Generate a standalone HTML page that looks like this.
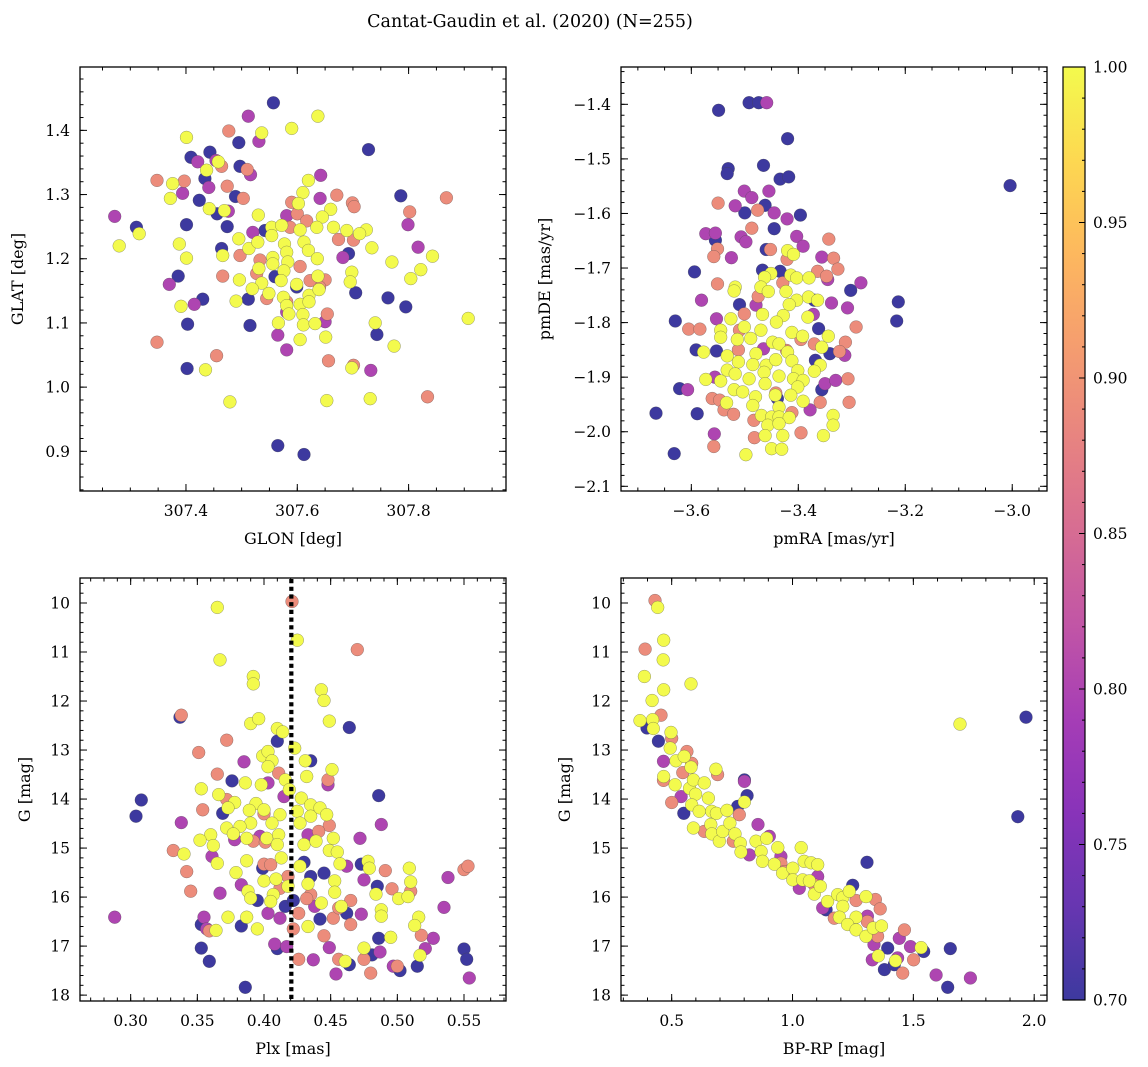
<!DOCTYPE html>
<html><head><meta charset="utf-8"><style>
html,body{margin:0;padding:0;background:#fff;}
svg{display:block;font-family:"DejaVu Serif","Liberation Serif",serif;}
</style></head><body>
<svg id="fig" width="1148" height="1067" viewBox="0 0 1148 1067" xmlns="http://www.w3.org/2000/svg">
<text x="530" y="27" text-anchor="middle" font-size="17.5">Cantat-Gaudin et al. (2020) (N=255)</text>
<defs><linearGradient id="cbgrad" x1="0" y1="1" x2="0" y2="0"></linearGradient></defs>
</svg>
<script>
// ---------- DATA ----------
// top-left: [GLON, GLAT, prob]
const tlPoints = [
[307.557,1.443,0.70],[307.495,1.381,0.70],[307.443,1.366,0.70],[307.409,1.358,0.70],[307.728,1.370,0.70],[307.497,1.344,0.70],[307.434,1.325,0.70],[307.424,1.291,0.70],[307.489,1.297,0.70],[307.786,1.298,0.70],[307.456,1.270,0.70],[307.311,1.249,0.70],[307.401,1.253,0.70],[307.474,1.250,0.70],[307.464,1.216,0.70],[307.692,1.208,0.70],[307.386,1.173,0.70],[307.430,1.137,0.70],[307.512,1.137,0.70],[307.705,1.147,0.70],[307.763,1.139,0.70],[307.795,1.125,0.70],[307.403,1.098,0.70],[307.515,1.096,0.70],[307.743,1.082,0.70],[307.402,1.029,0.70],[307.565,0.909,0.70],[307.612,0.895,0.70],[307.542,1.244,0.70],[307.560,1.172,0.70],[307.599,1.156,0.70],
[307.272,1.266,0.80],[307.512,1.422,0.80],[307.531,1.383,0.80],[307.421,1.351,0.80],[307.454,1.353,0.80],[307.516,1.331,0.80],[307.441,1.311,0.80],[307.394,1.302,0.80],[307.641,1.294,0.80],[307.642,1.330,0.80],[307.476,1.274,0.80],[307.581,1.267,0.80],[307.520,1.241,0.80],[307.799,1.253,0.80],[307.817,1.218,0.80],[307.682,1.202,0.80],[307.370,1.160,0.80],[307.415,1.129,0.80],[307.565,1.081,0.80],[307.581,1.058,0.80],[307.650,1.102,0.80],[307.732,1.026,0.80],[307.581,1.117,0.80],
[307.348,1.322,0.89],[307.397,1.321,0.89],[307.477,1.399,0.89],[307.510,1.339,0.89],[307.464,1.344,0.89],[307.474,1.313,0.89],[307.503,1.294,0.89],[307.590,1.288,0.89],[307.600,1.270,0.89],[307.671,1.299,0.89],[307.699,1.287,0.89],[307.702,1.281,0.89],[307.802,1.273,0.89],[307.868,1.295,0.89],[307.674,1.230,0.89],[307.701,1.229,0.89],[307.497,1.205,0.89],[307.533,1.198,0.89],[307.587,1.249,0.89],[307.617,1.259,0.89],[307.466,1.173,0.89],[307.650,1.167,0.89],[307.640,1.156,0.89],[307.545,1.138,0.89],[307.581,1.133,0.89],[307.654,1.114,0.89],[307.348,1.070,0.89],[307.455,1.049,0.89],[307.656,1.041,0.89],[307.701,1.034,0.89],[307.834,0.985,0.89],[307.605,1.188,0.89],[307.623,1.166,0.89],[307.527,1.177,0.89],
[307.637,1.422,1.0],[307.590,1.403,1.0],[307.536,1.396,1.0],[307.401,1.389,1.0],[307.458,1.351,1.0],[307.437,1.338,1.0],[307.376,1.317,1.0],[307.372,1.294,1.0],[307.442,1.278,1.0],[307.469,1.275,1.0],[307.620,1.322,1.0],[307.610,1.303,1.0],[307.602,1.286,1.0],[307.660,1.277,1.0],[307.645,1.265,1.0],[307.530,1.268,1.0],[307.316,1.239,1.0],[307.280,1.220,1.0],[307.388,1.223,1.0],[307.401,1.201,1.0],[307.554,1.249,1.0],[307.572,1.252,1.0],[307.605,1.245,1.0],[307.635,1.249,1.0],[307.665,1.249,1.0],[307.689,1.244,1.0],[307.724,1.245,1.0],[307.712,1.239,1.0],[307.495,1.231,1.0],[307.513,1.216,1.0],[307.529,1.226,1.0],[307.554,1.236,1.0],[307.577,1.223,1.0],[307.612,1.226,1.0],[307.620,1.213,1.0],[307.581,1.210,1.0],[307.466,1.205,1.0],[307.556,1.202,1.0],[307.583,1.195,1.0],[307.636,1.200,1.0],[307.734,1.217,1.0],[307.770,1.195,1.0],[307.843,1.204,1.0],[307.822,1.183,1.0],[307.804,1.169,1.0],[307.531,1.185,1.0],[307.556,1.192,1.0],[307.576,1.181,1.0],[307.637,1.173,1.0],[307.698,1.179,1.0],[307.695,1.164,1.0],[307.496,1.167,1.0],[307.536,1.162,1.0],[307.571,1.166,1.0],[307.599,1.160,1.0],[307.519,1.153,1.0],[307.549,1.146,1.0],[307.575,1.140,1.0],[307.621,1.143,1.0],[307.639,1.152,1.0],[307.490,1.134,1.0],[307.581,1.127,1.0],[307.605,1.129,1.0],[307.391,1.126,1.0],[307.621,1.133,1.0],[307.585,1.114,1.0],[307.610,1.113,1.0],[307.566,1.100,1.0],[307.611,1.097,1.0],[307.632,1.099,1.0],[307.740,1.100,1.0],[307.907,1.107,1.0],[307.651,1.078,1.0],[307.605,1.074,1.0],[307.774,1.064,1.0],[307.435,1.027,1.0],[307.698,1.030,1.0],[307.479,0.977,1.0],[307.653,0.979,1.0],[307.731,0.982,1.0]
];
// top-right: [pmRA, pmDE, prob]
const trPoints = [
[-3.549,-1.411,0.70],[-3.492,-1.397,0.70],[-3.474,-1.397,0.70],[-3.420,-1.463,0.70],[-3.531,-1.518,0.70],[-3.533,-1.527,0.70],[-3.465,-1.512,0.70],[-3.434,-1.537,0.70],[-3.418,-1.533,0.70],[-3.004,-1.549,0.70],[-3.462,-1.585,0.70],[-3.500,-1.599,0.70],[-3.396,-1.603,0.70],[-3.445,-1.628,0.70],[-3.555,-1.649,0.70],[-3.460,-1.666,0.70],[-3.594,-1.707,0.70],[-3.467,-1.704,0.70],[-3.434,-1.706,0.70],[-3.302,-1.741,0.70],[-3.510,-1.767,0.70],[-3.213,-1.762,0.70],[-3.216,-1.797,0.70],[-3.630,-1.797,0.70],[-3.591,-1.850,0.70],[-3.553,-1.852,0.70],[-3.362,-1.811,0.70],[-3.341,-1.857,0.70],[-3.368,-1.869,0.70],[-3.622,-1.921,0.70],[-3.589,-1.967,0.70],[-3.666,-1.966,0.70],[-3.356,-1.923,0.70],[-3.632,-2.040,0.70],[-3.439,-1.939,0.70],[-3.370,-1.759,0.70],
[-3.459,-1.397,0.80],[-3.501,-1.559,0.80],[-3.487,-1.571,0.80],[-3.455,-1.559,0.80],[-3.518,-1.586,0.80],[-3.445,-1.599,0.80],[-3.421,-1.610,0.80],[-3.573,-1.637,0.80],[-3.555,-1.636,0.80],[-3.507,-1.643,0.80],[-3.498,-1.652,0.80],[-3.403,-1.642,0.80],[-3.391,-1.660,0.80],[-3.525,-1.681,0.80],[-3.356,-1.680,0.80],[-3.345,-1.721,0.80],[-3.283,-1.727,0.80],[-3.581,-1.759,0.80],[-3.338,-1.764,0.80],[-3.308,-1.773,0.80],[-3.553,-1.793,0.80],[-3.479,-1.768,0.80],[-3.372,-1.785,0.80],[-3.465,-1.848,0.80],[-3.313,-1.860,0.80],[-3.607,-1.923,0.80],[-3.350,-1.912,0.80],[-3.330,-1.906,0.80],[-3.557,-2.004,0.80],[-3.378,-1.960,0.80],[-3.556,-1.900,0.80],
[-3.550,-1.581,0.89],[-3.476,-1.594,0.89],[-3.487,-1.627,0.89],[-3.551,-1.665,0.89],[-3.558,-1.679,0.89],[-3.452,-1.666,0.89],[-3.421,-1.684,0.89],[-3.343,-1.647,0.89],[-3.334,-1.682,0.89],[-3.326,-1.702,0.89],[-3.364,-1.706,0.89],[-3.347,-1.715,0.89],[-3.551,-1.729,0.89],[-3.429,-1.727,0.89],[-3.475,-1.752,0.89],[-3.605,-1.812,0.89],[-3.584,-1.812,0.89],[-3.292,-1.808,0.89],[-3.501,-1.784,0.89],[-3.512,-1.850,0.89],[-3.395,-1.831,0.89],[-3.370,-1.839,0.89],[-3.312,-1.836,0.89],[-3.323,-1.853,0.89],[-3.422,-1.851,0.89],[-3.307,-1.903,0.89],[-3.305,-1.946,0.89],[-3.359,-1.946,0.89],[-3.561,-1.939,0.89],[-3.547,-1.942,0.89],[-3.539,-1.960,0.89],[-3.521,-1.968,0.89],[-3.483,-1.979,0.89],[-3.412,-1.965,0.89],[-3.395,-2.002,0.89],[-3.482,-2.011,0.89],[-3.558,-2.027,0.89],[-3.442,-1.929,0.89],[-3.510,-1.814,0.89],
[-3.420,-1.668,1.0],[-3.409,-1.675,1.0],[-3.451,-1.710,1.0],[-3.463,-1.717,1.0],[-3.414,-1.713,1.0],[-3.403,-1.718,1.0],[-3.380,-1.718,1.0],[-3.518,-1.735,1.0],[-3.520,-1.742,1.0],[-3.470,-1.735,1.0],[-3.456,-1.743,1.0],[-3.423,-1.743,1.0],[-3.403,-1.759,1.0],[-3.381,-1.753,1.0],[-3.364,-1.759,1.0],[-3.417,-1.767,1.0],[-3.428,-1.787,1.0],[-3.382,-1.790,1.0],[-3.467,-1.785,1.0],[-3.526,-1.793,1.0],[-3.501,-1.808,1.0],[-3.545,-1.814,1.0],[-3.470,-1.814,1.0],[-3.441,-1.799,1.0],[-3.412,-1.818,1.0],[-3.392,-1.825,1.0],[-3.344,-1.825,1.0],[-3.356,-1.845,1.0],[-3.545,-1.827,1.0],[-3.514,-1.831,1.0],[-3.489,-1.829,1.0],[-3.448,-1.836,1.0],[-3.436,-1.839,1.0],[-3.420,-1.854,1.0],[-3.479,-1.857,1.0],[-3.577,-1.854,1.0],[-3.533,-1.861,1.0],[-3.512,-1.872,1.0],[-3.485,-1.877,1.0],[-3.460,-1.878,1.0],[-3.442,-1.868,1.0],[-3.412,-1.870,1.0],[-3.359,-1.878,1.0],[-3.370,-1.889,1.0],[-3.401,-1.888,1.0],[-3.533,-1.887,1.0],[-3.518,-1.894,1.0],[-3.573,-1.904,1.0],[-3.545,-1.907,1.0],[-3.492,-1.903,1.0],[-3.464,-1.891,1.0],[-3.436,-1.898,1.0],[-3.409,-1.903,1.0],[-3.391,-1.906,1.0],[-3.462,-1.912,1.0],[-3.401,-1.918,1.0],[-3.520,-1.923,1.0],[-3.504,-1.927,1.0],[-3.480,-1.936,1.0],[-3.443,-1.933,1.0],[-3.414,-1.933,1.0],[-3.391,-1.944,1.0],[-3.534,-1.947,1.0],[-3.485,-1.952,1.0],[-3.436,-1.955,1.0],[-3.469,-1.970,1.0],[-3.450,-1.973,1.0],[-3.436,-1.973,1.0],[-3.417,-1.974,1.0],[-3.335,-1.970,1.0],[-3.335,-1.988,1.0],[-3.457,-1.988,1.0],[-3.436,-1.985,1.0],[-3.462,-2.007,1.0],[-3.429,-2.007,1.0],[-3.353,-2.007,1.0],[-3.450,-2.031,1.0],[-3.431,-2.032,1.0],[-3.498,-2.042,1.0]
];
// bottom-left: [Plx, G, prob]
const blPoints = [
[0.308,14.02,0.70],[0.304,14.35,0.70],[0.337,12.33,0.70],[0.376,13.63,0.70],[0.369,14.29,0.70],[0.410,12.82,0.70],[0.464,12.54,0.70],[0.486,13.93,0.70],[0.435,13.22,0.70],[0.399,15.41,0.70],[0.430,15.29,0.70],[0.445,15.51,0.70],[0.473,15.33,0.70],[0.435,15.58,0.70],[0.485,15.78,0.70],[0.395,16.07,0.70],[0.416,16.19,0.70],[0.422,16.07,0.70],[0.442,16.45,0.70],[0.462,16.33,0.70],[0.353,16.56,0.70],[0.383,16.59,0.70],[0.353,17.04,0.70],[0.359,17.31,0.70],[0.410,17.05,0.70],[0.386,17.84,0.70],[0.464,17.38,0.70],[0.486,16.84,0.70],[0.481,17.18,0.70],[0.502,17.50,0.70],[0.515,17.41,0.70],[0.550,17.06,0.70],[0.552,17.27,0.70],
[0.288,16.41,0.80],[0.338,14.48,0.80],[0.385,13.24,0.80],[0.403,13.67,0.80],[0.415,13.95,0.80],[0.448,13.71,0.80],[0.361,15.17,0.80],[0.378,14.83,0.80],[0.367,15.92,0.80],[0.383,15.75,0.80],[0.397,14.76,0.80],[0.355,16.41,0.80],[0.357,16.65,0.80],[0.403,16.33,0.80],[0.412,16.43,0.80],[0.408,16.96,0.80],[0.417,17.01,0.80],[0.437,17.28,0.80],[0.438,16.19,0.80],[0.449,17.03,0.80],[0.454,17.57,0.80],[0.472,14.80,0.80],[0.462,15.37,0.80],[0.475,15.65,0.80],[0.473,16.35,0.80],[0.488,14.52,0.80],[0.487,17.12,0.80],[0.497,17.41,0.80],[0.521,17.05,0.80],[0.527,16.84,0.80],[0.535,16.21,0.80],[0.538,15.60,0.80],[0.554,17.65,0.80],[0.433,14.73,0.80],
[0.421,9.97,0.89],[0.470,10.95,0.89],[0.338,12.29,0.89],[0.372,12.80,0.89],[0.351,13.05,0.89],[0.365,13.49,0.89],[0.411,13.47,0.89],[0.448,13.61,0.89],[0.354,14.22,0.89],[0.372,14.01,0.89],[0.400,14.30,0.89],[0.449,14.54,0.89],[0.441,14.66,0.89],[0.392,14.86,0.89],[0.401,14.88,0.89],[0.332,15.05,0.89],[0.342,15.48,0.89],[0.345,15.88,0.89],[0.400,15.33,0.89],[0.405,15.34,0.89],[0.418,15.58,0.89],[0.412,15.82,0.89],[0.491,15.46,0.89],[0.496,15.83,0.89],[0.510,15.88,0.89],[0.550,15.44,0.89],[0.553,15.37,0.89],[0.435,15.95,0.89],[0.452,16.43,0.89],[0.465,16.07,0.89],[0.465,16.56,0.89],[0.456,16.22,0.89],[0.426,16.33,0.89],[0.422,16.65,0.89],[0.445,16.79,0.89],[0.518,16.78,0.89],[0.426,17.27,0.89],[0.456,17.27,0.89],[0.475,17.27,0.89],[0.480,17.55,0.89],[0.500,17.41,0.89],[0.359,16.69,0.89],[0.432,16.03,0.89],
[0.365,10.09,1.0],[0.425,10.76,1.0],[0.367,11.16,1.0],[0.392,11.50,1.0],[0.392,11.65,1.0],[0.443,11.77,1.0],[0.445,11.99,1.0],[0.449,12.41,1.0],[0.390,12.46,1.0],[0.396,12.36,1.0],[0.410,12.56,1.0],[0.414,12.63,1.0],[0.423,12.96,1.0],[0.399,13.12,1.0],[0.403,13.03,1.0],[0.406,13.22,1.0],[0.403,13.34,1.0],[0.431,13.22,1.0],[0.432,13.54,1.0],[0.451,13.40,1.0],[0.386,13.67,1.0],[0.398,13.71,1.0],[0.353,13.79,1.0],[0.416,13.61,1.0],[0.419,13.81,1.0],[0.366,13.91,1.0],[0.378,14.07,1.0],[0.394,14.09,1.0],[0.400,14.22,1.0],[0.389,14.23,1.0],[0.373,14.18,1.0],[0.428,13.98,1.0],[0.435,14.12,1.0],[0.435,14.35,1.0],[0.442,14.18,1.0],[0.447,14.32,1.0],[0.425,14.25,1.0],[0.427,14.49,1.0],[0.412,14.32,1.0],[0.406,14.49,1.0],[0.390,14.49,1.0],[0.382,14.56,1.0],[0.372,14.59,1.0],[0.377,14.71,1.0],[0.360,14.73,1.0],[0.352,14.84,1.0],[0.362,14.95,1.0],[0.387,14.80,1.0],[0.402,14.80,1.0],[0.411,14.73,1.0],[0.410,14.93,1.0],[0.413,15.20,1.0],[0.430,14.93,1.0],[0.439,14.86,1.0],[0.452,14.80,1.0],[0.449,15.05,1.0],[0.455,15.08,1.0],[0.457,15.32,1.0],[0.340,15.12,1.0],[0.365,15.31,1.0],[0.387,15.26,1.0],[0.379,15.50,1.0],[0.427,15.37,1.0],[0.478,15.27,1.0],[0.479,15.41,1.0],[0.509,15.41,1.0],[0.510,15.69,1.0],[0.453,15.67,1.0],[0.453,15.90,1.0],[0.484,15.94,1.0],[0.501,16.03,1.0],[0.508,15.99,1.0],[0.400,15.67,1.0],[0.409,15.63,1.0],[0.433,15.73,1.0],[0.418,15.78,1.0],[0.388,15.88,1.0],[0.407,15.95,1.0],[0.405,16.09,1.0],[0.390,16.02,1.0],[0.443,16.12,1.0],[0.458,16.19,1.0],[0.488,16.26,1.0],[0.488,16.39,1.0],[0.516,16.41,1.0],[0.513,16.58,1.0],[0.373,16.41,1.0],[0.387,16.41,1.0],[0.395,16.65,1.0],[0.364,16.68,1.0],[0.433,16.60,1.0],[0.495,16.82,1.0],[0.475,17.04,1.0],[0.517,17.19,1.0],[0.461,17.31,1.0]
];
// bottom-right: [BP-RP, G, prob]
const brPoints = [
[0.398,12.55,0.70],[0.445,12.82,0.70],[0.550,14.29,0.70],[0.801,13.61,0.70],[0.812,13.93,0.70],[1.308,15.29,0.70],[1.249,15.76,0.70],[1.139,16.26,0.70],[1.394,17.04,0.70],[1.380,17.48,0.70],[1.543,17.11,0.70],[1.653,17.05,0.70],[1.642,17.84,0.70],[1.966,12.33,0.70],[1.932,14.36,0.70],[0.773,14.15,0.70],[1.421,17.38,0.70],
[0.466,13.23,0.80],[0.539,13.95,0.80],[0.801,13.64,0.80],[0.857,14.52,0.80],[0.821,15.14,0.80],[0.904,14.76,0.80],[0.952,15.17,0.80],[1.104,15.58,0.80],[1.125,16.22,0.80],[1.310,16.39,0.80],[1.337,16.97,0.80],[1.330,17.28,0.80],[1.442,16.84,0.80],[1.488,17.01,0.80],[1.435,17.24,0.80],[1.594,17.59,0.80],[1.736,17.65,0.80],[1.028,15.82,0.80],
[0.431,9.95,0.89],[0.390,10.94,0.89],[0.456,12.29,0.89],[0.500,12.76,0.89],[0.563,13.03,0.89],[0.583,13.27,0.89],[0.546,13.46,0.89],[0.466,13.62,0.89],[0.690,13.50,0.89],[0.500,14.07,0.89],[0.780,14.32,0.89],[0.635,14.66,0.89],[0.755,14.86,0.89],[0.952,15.31,0.89],[0.966,15.48,0.89],[1.090,15.75,0.89],[1.263,16.07,0.89],[1.343,16.05,0.89],[1.363,16.24,0.89],[1.173,16.43,0.89],[1.310,16.50,0.89],[1.463,16.67,0.89],[1.501,17.28,0.89],[1.456,17.55,0.89],[1.352,16.80,0.89],
[0.442,10.09,1.0],[0.467,10.76,1.0],[0.465,11.16,1.0],[0.387,11.50,1.0],[0.580,11.65,1.0],[0.467,11.77,1.0],[0.419,11.99,1.0],[0.369,12.40,1.0],[0.421,12.38,1.0],[0.424,12.56,1.0],[0.497,12.64,1.0],[0.494,12.96,1.0],[0.518,13.22,1.0],[0.552,13.13,1.0],[0.580,13.35,1.0],[0.683,13.39,1.0],[0.467,13.54,1.0],[0.514,13.71,1.0],[0.574,13.78,1.0],[0.590,13.61,1.0],[0.635,13.67,1.0],[0.652,13.98,1.0],[0.599,13.90,1.0],[0.583,14.12,1.0],[0.614,14.25,1.0],[0.665,14.25,1.0],[0.685,14.29,1.0],[0.729,14.23,1.0],[0.801,14.06,1.0],[0.590,14.59,1.0],[0.662,14.52,1.0],[0.666,14.71,1.0],[0.697,14.86,1.0],[0.711,14.66,1.0],[0.741,14.49,1.0],[0.762,14.71,1.0],[0.784,14.90,1.0],[0.787,15.08,1.0],[0.849,14.86,1.0],[0.870,15.07,1.0],[0.893,14.80,1.0],[0.876,15.27,1.0],[0.939,14.99,1.0],[0.925,15.33,1.0],[0.959,15.51,1.0],[1.001,15.41,1.0],[1.036,14.99,1.0],[1.048,15.27,1.0],[1.077,15.30,1.0],[1.104,15.34,1.0],[1.001,15.65,1.0],[1.042,15.65,1.0],[1.070,15.67,1.0],[1.090,15.94,1.0],[1.115,15.78,1.0],[1.145,16.09,1.0],[1.187,15.95,1.0],[1.208,16.01,1.0],[1.235,15.88,1.0],[1.208,16.19,1.0],[1.194,16.41,1.0],[1.263,16.41,1.0],[1.228,16.56,1.0],[1.263,16.67,1.0],[1.304,16.80,1.0],[1.334,16.63,1.0],[1.368,16.59,1.0],[1.304,15.99,1.0],[1.355,17.20,1.0],[1.426,17.30,1.0],[1.532,17.03,1.0],[1.693,12.47,1.0]
];
const plxCut = 0.4205;
const tlXTicks = [307.4,307.6,307.8];
const tlYTicks = [0.9,1.0,1.1,1.2,1.3,1.4];
const trXTicks = [-3.6,-3.4,-3.2,-3.0];
const trYTicks = [-2.1,-2.0,-1.9,-1.8,-1.7,-1.6,-1.5,-1.4];
const blXTicks = [0.30,0.35,0.40,0.45,0.50,0.55];
const gTicks = [10,11,12,13,14,15,16,17,18];
const brXTicks = [0.5,1.0,1.5,2.0];
const cbTicks = [0.70,0.75,0.80,0.85,0.90,0.95,1.00];

// ---------- RENDER ----------
const NS='http://www.w3.org/2000/svg';
const svg=document.getElementById('fig');
function el(tag,attrs,parent){const e=document.createElementNS(NS,tag);for(const k in attrs)e.setAttribute(k,attrs[k]);(parent||svg).appendChild(e);return e;}
const plasma=[[13,8,135],[65,4,157],[106,0,168],[143,13,164],[177,42,144],[204,71,120],[225,100,98],[242,132,75],[252,166,54],[252,206,37],[240,249,33]];
function cmap(t){t=Math.max(0,Math.min(1,t));const s=t*10,i=Math.min(9,Math.floor(s)),f=s-i;const a=plasma[i],b=plasma[i+1];
 const c=[0,1,2].map(k=>Math.round((a[k]+(b[k]-a[k])*f)*0.8+255*0.2));return 'rgb('+c.join(',')+')';}
function norm(p){return (p-0.7)/0.3;}
function lin(d0,d1,r0,r1){return v=>r0+(v-d0)/(d1-d0)*(r1-r0);}
function fmt(v,dec){const s=Math.abs(v).toFixed(dec);return v<0?'\u2212'+s:s;}
function tick(parent,x1,y1,x2,y2){el('line',{x1:x1,y1:y1,x2:x2,y2:y2,stroke:'#000','stroke-width':1},parent);}

// box: left,right,top,bottom ; yTopVal = data value at top edge, yBotVal = at bottom edge
function panel(name,box,xd,yTopVal,yBotVal,pts,xt,yt,xdec,ydec,xminor,yminor,xlab,ylab,ylabX){
 const g=el('g',{});
 
 
 const sx=lin(xd[0],xd[1],box.left,box.right), sy=lin(yTopVal,yBotVal,box.top,box.bottom);
 const sorted=pts.slice().sort((a,b)=>a[2]-b[2]);
 const mg=el('g',{},g);
 
 
 sorted.forEach(p=>{
  const c=el('circle',{cx:sx(p[0]).toFixed(1),cy:sy(p[1]).toFixed(1),r:6.4,fill:cmap(norm(p[2])),stroke:'rgba(70,70,70,0.55)','stroke-width':0.5},mg);
  
  
 });
 const tg=el('g',{},g);
 
 
 const xlo=Math.min(xd[0],xd[1]),xhi=Math.max(xd[0],xd[1]),ylo=Math.min(yTopVal,yBotVal),yhi=Math.max(yTopVal,yBotVal);
 for(let k=Math.ceil(xlo/xminor-1e-6);k*xminor<=xhi+1e-9;k++){const X=sx(k*xminor);tick(tg,X,box.bottom,X,box.bottom-3.5);tick(tg,X,box.top,X,box.top+3.5);}
 for(let k=Math.ceil(ylo/yminor-1e-6);k*yminor<=yhi+1e-9;k++){const Y=sy(k*yminor);tick(tg,box.left,Y,box.left+3.5,Y);tick(tg,box.right,Y,box.right-3.5,Y);}
 xt.forEach(v=>{const X=sx(v);tick(tg,X,box.bottom,X,box.bottom-7);tick(tg,X,box.top,X,box.top+7);
  const t=el('text',{x:X,y:box.bottom+25,'text-anchor':'middle','font-size':15.5},g);t.textContent=fmt(v,xdec);
  });
 yt.forEach(v=>{const Y=sy(v);tick(tg,box.left,Y,box.left+7,Y);tick(tg,box.right,Y,box.right-7,Y);
  const t=el('text',{x:box.left-10,y:Y+5.5,'text-anchor':'end','font-size':15.5},g);t.textContent=fmt(v,ydec);
  });
 const fr=el('rect',{x:box.left,y:box.top,width:box.right-box.left,height:box.bottom-box.top,fill:'none',stroke:'#000','stroke-width':1.3},g);
 
 
 const xl=el('text',{x:(box.left+box.right)/2,y:box.bottom+53,'text-anchor':'middle','font-size':16},g);xl.textContent=xlab;
 
 const ymid=(box.top+box.bottom)/2;
 const yl=el('text',{x:ylabX,y:ymid,'text-anchor':'middle','font-size':16,transform:'rotate(-90 '+ylabX+' '+ymid+')'},g);yl.textContent=ylab;
 
 return {sx,sy,g};
}
panel('panel-glon-glat',{left:80,right:506,top:67,bottom:491},[307.2096,307.975],1.4987,0.8382,tlPoints,tlXTicks,tlYTicks,1,1,0.05,0.02,'GLON [deg]','GLAT [deg]',23);
panel('panel-pm',{left:621,right:1047,top:67,bottom:491},[-3.7315,-2.935],-1.3316,-2.1086,trPoints,trXTicks,trYTicks,1,1,0.05,0.02,'pmRA [mas/yr]','pmDE [mas/yr]',550);
const bl=panel('panel-plx-g',{left:80,right:506,top:578,bottom:1001},[0.262,0.5815],9.49,18.12,blPoints,blXTicks,gTicks,2,0,0.01,0.2,'Plx [mas]','G [mag]',30);
panel('panel-cmd',{left:621,right:1047,top:578,bottom:1001},[0.2903,2.053],9.49,18.12,brPoints,brXTicks,gTicks,1,0,0.1,0.2,'BP-RP [mag]','G [mag]',570);
const cut=el('line',{x1:bl.sx(plxCut),x2:bl.sx(plxCut),y1:579,y2:1000,stroke:'#000','stroke-width':4.2,'stroke-dasharray':'4.2 3.5'},bl.g);



// colorbar
const cb={left:1063,right:1085,top:67,bottom:1000};
const grad=document.getElementById('cbgrad');
for(let i=0;i<=20;i++){el('stop',{offset:(i/20),'stop-color':cmap(i/20)},grad);}
const cbg=el('g',{});


el('rect',{x:cb.left,y:cb.top,width:cb.right-cb.left,height:cb.bottom-cb.top,fill:'url(#cbgrad)',stroke:'#000','stroke-width':1.2},cbg);
const cy=lin(0.7,1.0,cb.bottom,cb.top);
for(let k=70;k<=100;k++){const Y=cy(k/100);tick(cbg,cb.right,Y,cb.right-3,Y);}
cbTicks.forEach(v=>{const Y=cy(v);tick(cbg,cb.right,Y,cb.right-6,Y);
 const t=el('text',{x:cb.right+8,y:Y+5.5,'font-size':15.5},cbg);t.textContent=v.toFixed(2);
 });
</script>
</body></html>
